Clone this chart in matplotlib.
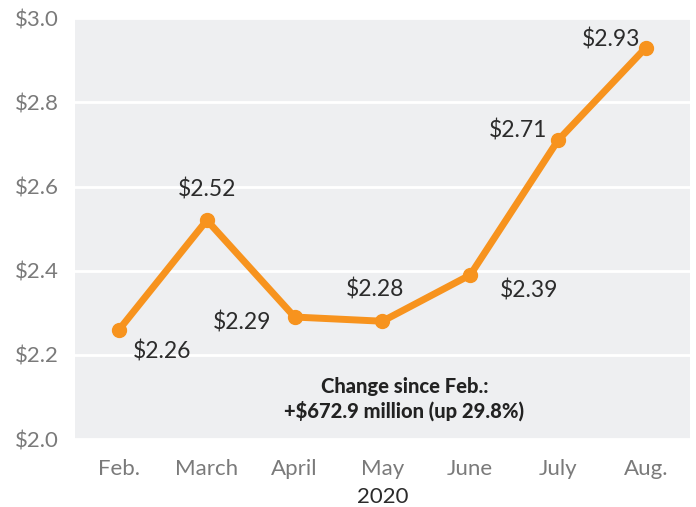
import matplotlib
matplotlib.use("Agg")
import matplotlib.pyplot as plt

# datos
meses   = ["Feb.", "March", "April", "May", "June", "July", "Aug."]
valores = [2.26, 2.52, 2.29, 2.28, 2.39, 2.71, 2.93]
etiquetas = ["$2.26", "$2.52", "$2.29", "$2.28", "$2.39", "$2.71", "$2.93"]
# desplazamiento de cada etiqueta (puntos)
offsets = [(31, -16), (0, 22), (-38, -4), (-5, 23), (42, -11), (-29, 7), (-25, 6)]
y_ticks = [2.0, 2.2, 2.4, 2.6, 2.8, 3.0]
nota = "Change since Feb.:\n+$672.9 million (up 29.8%)"

plt.rcParams['font.family'] = ['Lato', 'DejaVu Sans']

naranja = '#f7931e'
fondo   = '#eeeff1'

fig = plt.figure(figsize=(6.96, 5.07), dpi=100)
ax = fig.add_axes([0.108, 0.134, 0.883, 0.830])
ax.set_facecolor(fondo)

x = list(range(len(meses)))
ax.plot(x, valores, color=naranja, linewidth=5, marker='o', markersize=10,
        solid_capstyle='round', zorder=3)

for xi, v, lab, off in zip(x, valores, etiquetas, offsets):
    ax.annotate(lab.replace('$', r'\$'), xy=(xi, v), xytext=off,
                textcoords='offset points', ha='center', va='center',
                fontsize=16.5, color='#2b2b2b')

ax.set_xlim(-0.5, 6.5)
ax.set_ylim(2.0, 3.0)
ax.set_yticks(y_ticks)
ax.set_yticklabels([r'\$%.1f' % t for t in y_ticks])
ax.set_xticks(x)
ax.set_xticklabels(meses)
ax.tick_params(length=0, labelsize=16, labelcolor='#7a7a7a')
ax.tick_params(axis='y', pad=12)
ax.tick_params(axis='x', pad=14)
for s in ax.spines.values():
    s.set_visible(False)
ax.grid(axis='y', color='white', linewidth=2)
ax.set_axisbelow(True)

ax.text(3, -0.137, "2020", transform=ax.get_xaxis_transform(),
        ha='center', va='center', fontsize=16, color='#2b2b2b')

ax.text(3.25, 2.095, nota.replace('$', r'\$'), ha='center', va='center',
        fontsize=14.5, fontweight='black', color='#222222', linespacing=1.3)

plt.savefig("out.png", dpi=100)
plt.close()
